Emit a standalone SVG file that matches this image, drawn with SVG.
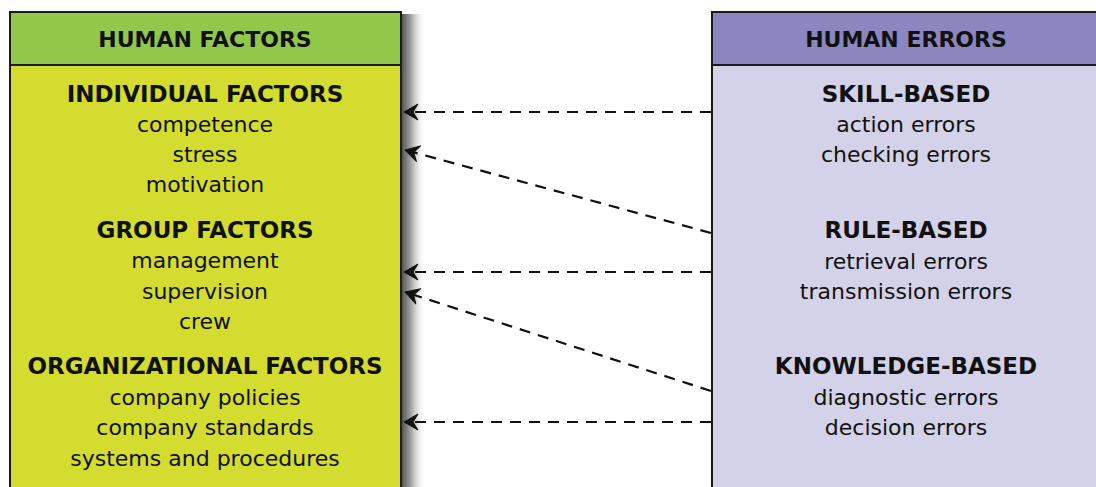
<svg xmlns="http://www.w3.org/2000/svg" width="1096" height="487" viewBox="0 0 1096 487">
<style>
.t{font-family:"DejaVu Sans",Verdana,sans-serif;font-size:22px;fill:#111;text-anchor:middle}
.b{font-weight:bold;font-size:23px}
.h{font-weight:bold;font-size:22px}
.c{fill:none;stroke:#111;stroke-width:2.2;stroke-dasharray:11 8}
.box{stroke:#1a1a1a;stroke-width:2}
</style>
<defs>
<linearGradient id="sh" x1="0" y1="0" x2="1" y2="0">
<stop offset="0" stop-color="#555"/>
<stop offset="0.4" stop-color="#aaa"/>
<stop offset="1" stop-color="#fff" stop-opacity="0"/>
</linearGradient>
<marker id="ah" viewBox="0 0 18 18" refX="16" refY="9" markerWidth="18" markerHeight="18" markerUnits="userSpaceOnUse" orient="auto">
<path d="M16 9 L2 1 L7 9 L2 17 Z" fill="#111" stroke="#111" stroke-width="1" stroke-linejoin="round"/>
</marker>
</defs>
<rect x="0" y="0" width="1096" height="487" fill="#fff"/>
<rect x="402" y="14" width="24" height="480" fill="url(#sh)"/>
<g id="human-factors">
<rect class="box" x="10" y="12" width="391" height="490" fill="#d3dc2f"/>
<rect class="box" x="10" y="12" width="391" height="53" fill="#92c84a"/>
<text class="t h" x="205" y="47">HUMAN FACTORS</text>
<text class="t b" x="205" y="102">INDIVIDUAL FACTORS</text>
<text class="t" x="205" y="132">competence</text>
<text class="t" x="205" y="162">stress</text>
<text class="t" x="205" y="192">motivation</text>
<text class="t b" x="205" y="238">GROUP FACTORS</text>
<text class="t" x="205" y="268">management</text>
<text class="t" x="205" y="299">supervision</text>
<text class="t" x="205" y="329">crew</text>
<text class="t b" x="205" y="374">ORGANIZATIONAL FACTORS</text>
<text class="t" x="205" y="405">company policies</text>
<text class="t" x="205" y="435">company standards</text>
<text class="t" x="205" y="466">systems and procedures</text>
</g>
<g id="human-errors">
<rect class="box" x="712" y="12" width="400" height="490" fill="#d3d2e8"/>
<rect class="box" x="712" y="12" width="400" height="53" fill="#8c86c0"/>
<text class="t h" x="906" y="47">HUMAN ERRORS</text>
<text class="t b" x="906" y="102">SKILL-BASED</text>
<text class="t" x="906" y="132">action errors</text>
<text class="t" x="906" y="162">checking errors</text>
<text class="t b" x="906" y="238">RULE-BASED</text>
<text class="t" x="906" y="269">retrieval errors</text>
<text class="t" x="906" y="299">transmission errors</text>
<text class="t b" x="906" y="374">KNOWLEDGE-BASED</text>
<text class="t" x="906" y="405">diagnostic errors</text>
<text class="t" x="906" y="435">decision errors</text>
</g>
<g id="connectors">
<path class="c" d="M711 112 L404 112" marker-end="url(#ah)"/>
<path class="c" d="M711 233 L405 150" marker-end="url(#ah)"/>
<path class="c" d="M711 272 L404 272" marker-end="url(#ah)"/>
<path class="c" d="M711 391 L405 292" marker-end="url(#ah)"/>
<path class="c" d="M711 422 L404 422" marker-end="url(#ah)"/>
</g>
</svg>
